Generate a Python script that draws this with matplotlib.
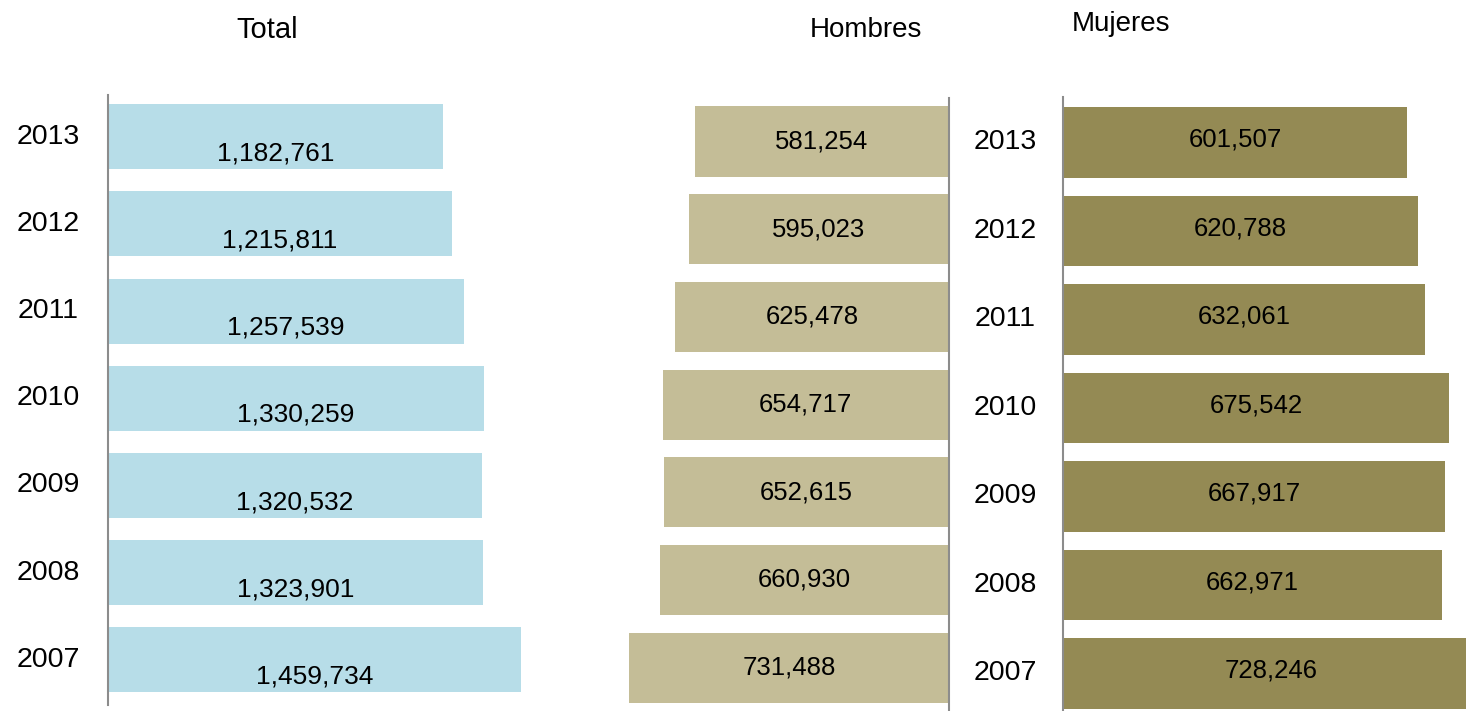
# Población por año: total, hombres y mujeres
import numpy as np
import matplotlib.pyplot as plt

plt.rcParams['font.family'] = ['Liberation Sans', 'DejaVu Sans']

anios = ['2013', '2012', '2011', '2010', '2009', '2008', '2007']
total = [1182761, 1215811, 1257539, 1330259, 1320532, 1323901, 1459734]
hombres = [581254, 595023, 625478, 654717, 652615, 660930, 731488]
mujeres = [601507, 620788, 632061, 675542, 667917, 662971, 728246]

W, H = 1466, 711
fig = plt.figure(figsize=(W / 100, H / 100), dpi=100)
gris = '#8c8c8c'
y = np.arange(len(anios))


def caja(x0, y0, x1, y1):
    # pixeles -> fraccion de figura (y desde arriba)
    return [x0 / W, 1 - y1 / H, (x1 - x0) / W, (y1 - y0) / H]


def fmt(v):
    return f'{v:,}'


# Total
ax1 = fig.add_axes(caja(108, 95, 568, 705))
ax1.barh(y, total, height=0.745, color='#b7dde8')
ax1.set_xlim(0, 460 / 2.8293e-4)
ax1.set_ylim(6.516, -0.476)
for i, v in enumerate(total):
    ax1.text(v / 2, i + 0.19, fmt(v), ha='center', va='center', fontsize=19)
    ax1.text(-0.13, i, anios[i], transform=ax1.get_yaxis_transform(),
             ha='center', va='center', fontsize=20.5)

# Hombres
ax2 = fig.add_axes(caja(600, 98, 949, 711))
ax2.barh(y, hombres, height=0.8, color='#c4bd97')
ax2.set_xlim(349 / 4.3746e-4, 0)
ax2.set_ylim(6.494, -0.496)
for i, v in enumerate(hombres):
    ax2.text(v / 2, i, fmt(v), ha='center', va='center', fontsize=18.5)

# Mujeres
ax3 = fig.add_axes(caja(1063, 97, 1466, 711))
ax3.barh(y, mujeres, height=0.8, color='#948a54')
ax3.set_xlim(0, 403 / 5.72e-4)
ax3.set_ylim(6.424, -0.514)
for i, v in enumerate(mujeres):
    ax3.text(v / 2, i - 0.03, fmt(v), ha='center', va='center', fontsize=18.5)
    ax3.text(-0.144, i, anios[i], transform=ax3.get_yaxis_transform(),
             ha='center', va='center', fontsize=20.5)

for ax, lado in [(ax1, 'left'), (ax2, 'right'), (ax3, 'left')]:
    for s in ax.spines.values():
        s.set_visible(False)
    ax.spines[lado].set_visible(True)
    ax.spines[lado].set_color(gris)
    ax.spines[lado].set_linewidth(1.5)
    ax.set_xticks([])
    ax.set_yticks([])
    ax.patch.set_alpha(0)

fig.text(267 / W, 1 - 30 / H, 'Total', ha='center', va='center', fontsize=21)
fig.text(866 / W, 1 - 30 / H, 'Hombres', ha='center', va='center', fontsize=20)
fig.text(1121 / W, 1 - 24 / H, 'Mujeres', ha='center', va='center', fontsize=20)

fig.savefig('out.png', dpi=100)
